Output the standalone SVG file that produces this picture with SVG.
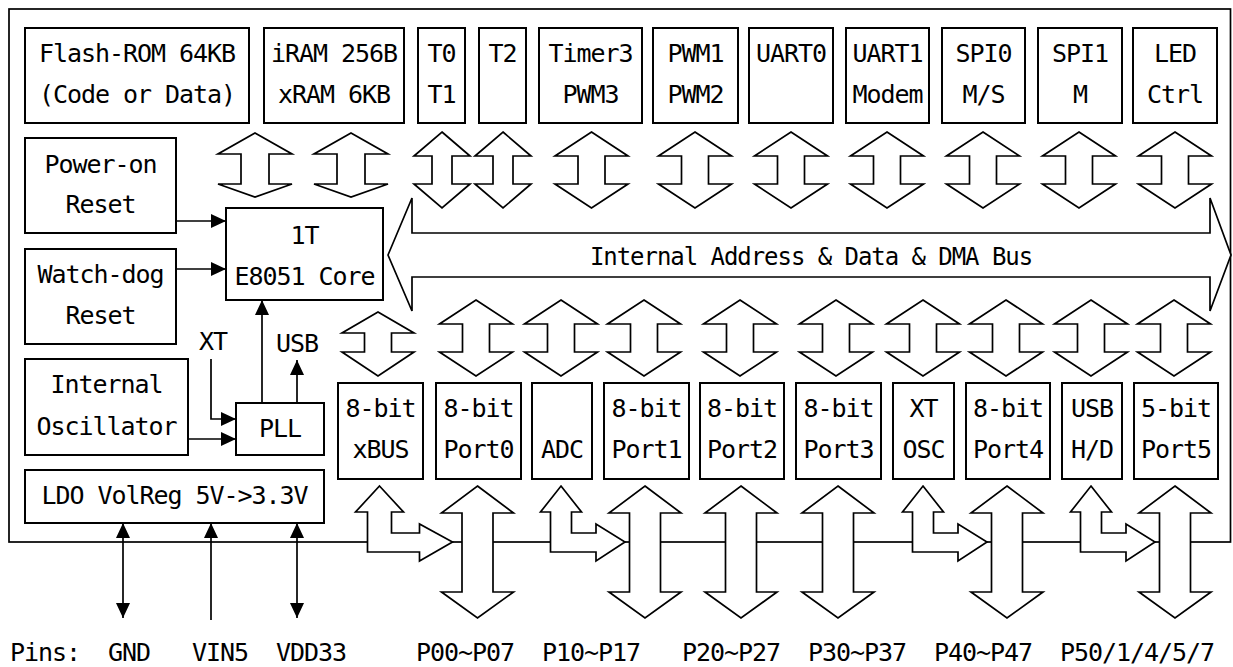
<svg xmlns="http://www.w3.org/2000/svg" width="1233" height="667" viewBox="0 0 1233 667">
<style>
.box{fill:#fff;stroke:#000;stroke-width:2}
.blk{fill:#fff;stroke:#000;stroke-width:1.7;stroke-linejoin:miter}
.ln{fill:none;stroke:#000;stroke-width:1.7}
.frame{fill:none;stroke:#000;stroke-width:1.7}
text{font-family:"DejaVu Sans Mono","Liberation Mono",monospace;font-size:25px;letter-spacing:-1.05px;fill:#000}
.c{text-anchor:middle}
</style>
<defs>
<marker id="ah" viewBox="0 0 15 14" refX="15" refY="7" markerWidth="15" markerHeight="14" markerUnits="userSpaceOnUse" orient="auto-start-reverse"><path d="M0,0L15,7L0,14Z" fill="#000"/></marker>
<path id="dw" class="blk" d="M0,0L36.5,24L13.5,24L13.5,52L36.5,52L0,76L-36.5,52L-13.5,52L-13.5,24L-36.5,24Z"/>
<path id="dn" class="blk" d="M0,0L28,24L10,24L10,52L28,52L0,76L-28,52L-10,52L-10,24L-28,24Z"/>
<path id="ds" class="blk" d="M0,0L37,21L14,21L14,51L37,51L0,64L-37,51L-14,51L-14,21L-37,21Z"/>
<path id="dx" class="blk" d="M0,0L36,21L13.5,21L13.5,40L36,40L0,64L-36,40L-13.5,40L-13.5,21L-36,21Z"/>
<path id="dp" class="blk" d="M0,0L36,27L15.5,27L15.5,106L36,106L0,132L-36,106L-15.5,106L-15.5,27L-36,27Z"/>
<path id="la" class="blk" d="M0,0L20.5,26L10.5,26L10.5,47L35,47L35,38L64,56L35,75L35,66L-10.5,66L-10.5,26L-20.5,26Z"/>
<path id="lx" class="blk" d="M0,0L24,26L12,26L12,47L40,47L40,38L73,56L40,75L40,66L-12,66L-12,26L-24,26Z"/>
</defs>
<rect width="1233" height="667" fill="#fff"/>
<rect id="chip" class="frame" x="9" y="9" width="1221.5" height="533"/>
<g id="connectors">
<polygon id="bus" class="blk" points="388,255 412,198 412,233 1210,233 1210,198 1231,255 1210,311 1210,277 412,277 412,311"/>
<use href="#ds" x="255" y="133"/>
<use href="#ds" x="351" y="133"/>
<use href="#dn" x="442" y="132"/>
<use href="#dn" x="503" y="132"/>
<use href="#dw" x="591.5" y="132"/>
<use href="#dw" x="695" y="132"/>
<use href="#dw" x="791" y="132"/>
<use href="#dw" x="887" y="132"/>
<use href="#dw" x="983" y="132"/>
<use href="#dw" x="1079" y="132"/>
<use href="#dw" x="1175" y="132"/>
<use href="#dx" x="378" y="312"/>
<use href="#dw" x="476" y="300"/>
<use href="#dw" x="561" y="300"/>
<use href="#dw" x="644" y="300"/>
<use href="#dw" x="740" y="300"/>
<use href="#dw" x="836" y="300"/>
<use href="#dw" x="923" y="300"/>
<use href="#dw" x="1006" y="300"/>
<use href="#dw" x="1091" y="300"/>
<use href="#dw" x="1174" y="300"/>
<use href="#lx" x="379.5" y="486"/>
<use href="#la" x="561" y="486"/>
<use href="#la" x="923" y="486"/>
<use href="#la" x="1091" y="486"/>
<use href="#dp" x="477.5" y="486"/>
<use href="#dp" x="645" y="486"/>
<use href="#dp" x="741" y="486"/>
<use href="#dp" x="838" y="486"/>
<use href="#dp" x="1007" y="486"/>
<use href="#dp" x="1175" y="486"/>
<line class="ln" x1="176" y1="221" x2="226" y2="221" marker-end="url(#ah)"/>
<line class="ln" x1="176" y1="269" x2="226" y2="269" marker-end="url(#ah)"/>
<polyline class="ln" points="211,359 211,419 236,419" marker-end="url(#ah)"/>
<line class="ln" x1="188" y1="439" x2="236" y2="439" marker-end="url(#ah)"/>
<line class="ln" x1="262" y1="403" x2="262" y2="300" marker-end="url(#ah)"/>
<line class="ln" x1="297" y1="403" x2="297" y2="360" marker-end="url(#ah)"/>
<line class="ln" x1="123" y1="618" x2="123" y2="523" marker-start="url(#ah)" marker-end="url(#ah)"/>
<line class="ln" x1="211" y1="620" x2="211" y2="523" marker-end="url(#ah)"/>
<line class="ln" x1="297" y1="618" x2="297" y2="523" marker-start="url(#ah)" marker-end="url(#ah)"/>
<text class="c" x="811" y="265" style="font-size:24px;letter-spacing:-1.05px">Internal Address &amp; Data &amp; DMA Bus</text>
<text class="c" x="213" y="350">XT</text>
<text class="c" x="297" y="352">USB</text>
</g>
<g id="flash"><rect class="box" x="25" y="28" width="224" height="95"/><text class="c" x="137" y="62">Flash-ROM 64KB</text><text class="c" x="137" y="103">(Code or Data)</text></g>
<g id="ram"><rect class="box" x="264" y="28" width="140" height="95"/><text class="c" x="334" y="62">iRAM 256B</text><text class="c" x="334" y="103">xRAM 6KB</text></g>
<g id="t01"><rect class="box" x="418" y="28" width="47" height="95"/><text class="c" x="441.5" y="62">T0</text><text class="c" x="441.5" y="103">T1</text></g>
<g id="t2"><rect class="box" x="479" y="28" width="47" height="95"/><text class="c" x="502.5" y="62">T2</text></g>
<g id="timer3"><rect class="box" x="539" y="28" width="103" height="95"/><text class="c" x="590.5" y="62">Timer3</text><text class="c" x="590.5" y="103">PWM3</text></g>
<g id="pwm"><rect class="box" x="653" y="28" width="85" height="95"/><text class="c" x="695.5" y="62">PWM1</text><text class="c" x="695.5" y="103">PWM2</text></g>
<g id="uart0"><rect class="box" x="749" y="28" width="84" height="95"/><text class="c" x="791" y="62">UART0</text></g>
<g id="uart1"><rect class="box" x="846" y="28" width="83" height="95"/><text class="c" x="887.5" y="62">UART1</text><text class="c" x="887.5" y="103">Modem</text></g>
<g id="spi0"><rect class="box" x="942" y="28" width="83" height="95"/><text class="c" x="983.5" y="62">SPI0</text><text class="c" x="983.5" y="103">M/S</text></g>
<g id="spi1"><rect class="box" x="1038" y="28" width="84" height="95"/><text class="c" x="1080" y="62">SPI1</text><text class="c" x="1080" y="103">M</text></g>
<g id="led"><rect class="box" x="1133" y="28" width="84" height="95"/><text class="c" x="1175" y="62">LED</text><text class="c" x="1175" y="103">Ctrl</text></g>
<g id="por"><rect class="box" x="25" y="138" width="151" height="95"/><text class="c" x="100.5" y="173">Power-on</text><text class="c" x="100.5" y="213">Reset</text></g>
<g id="core"><rect class="box" x="226" y="208" width="157" height="92"/><text class="c" x="304.5" y="244">1T</text><text class="c" x="304.5" y="285">E8051 Core</text></g>
<g id="wdt"><rect class="box" x="25" y="249" width="151" height="95"/><text class="c" x="100.5" y="283">Watch-dog</text><text class="c" x="100.5" y="324">Reset</text></g>
<g id="osc"><rect class="box" x="25" y="359" width="163" height="96"/><text class="c" x="106.5" y="393">Internal</text><text class="c" x="106.5" y="435">Oscillator</text></g>
<g id="pll"><rect class="box" x="236" y="403" width="88" height="52"/><text class="c" x="280" y="437">PLL</text></g>
<g id="ldo"><rect class="box" x="25" y="470" width="299" height="53"/><text class="c" x="174.5" y="504">LDO VolReg 5V-&gt;3.3V</text></g>
<g id="xbus"><rect class="box" x="338" y="383" width="85" height="96"/><text class="c" x="380.5" y="417">8-bit</text><text class="c" x="380.5" y="458">xBUS</text></g>
<g id="port0"><rect class="box" x="436" y="383" width="85" height="96"/><text class="c" x="478.5" y="417">8-bit</text><text class="c" x="478.5" y="458">Port0</text></g>
<g id="adc"><rect class="box" x="532" y="383" width="60" height="96"/><text class="c" x="562" y="458">ADC</text></g>
<g id="port1"><rect class="box" x="604" y="383" width="85" height="96"/><text class="c" x="646.5" y="417">8-bit</text><text class="c" x="646.5" y="458">Port1</text></g>
<g id="port2"><rect class="box" x="700" y="383" width="84" height="96"/><text class="c" x="742" y="417">8-bit</text><text class="c" x="742" y="458">Port2</text></g>
<g id="port3"><rect class="box" x="796" y="383" width="85" height="96"/><text class="c" x="838.5" y="417">8-bit</text><text class="c" x="838.5" y="458">Port3</text></g>
<g id="xtosc"><rect class="box" x="893" y="383" width="61" height="96"/><text class="c" x="923.5" y="417">XT</text><text class="c" x="923.5" y="458">OSC</text></g>
<g id="port4"><rect class="box" x="966" y="383" width="84" height="96"/><text class="c" x="1008" y="417">8-bit</text><text class="c" x="1008" y="458">Port4</text></g>
<g id="usb"><rect class="box" x="1062" y="383" width="60" height="96"/><text class="c" x="1092" y="417">USB</text><text class="c" x="1092" y="458">H/D</text></g>
<g id="port5"><rect class="box" x="1134" y="383" width="84" height="96"/><text class="c" x="1176" y="417">5-bit</text><text class="c" x="1176" y="458">Port5</text></g>
<g id="pins">
<text x="10" y="661">Pins:</text>
<text x="108" y="661">GND</text>
<text x="192" y="661">VIN5</text>
<text x="276" y="661">VDD33</text>
<text x="416" y="661">P00~P07</text>
<text x="542" y="661">P10~P17</text>
<text x="682" y="661">P20~P27</text>
<text x="808" y="661">P30~P37</text>
<text x="934" y="661">P40~P47</text>
<text x="1060" y="661">P50/1/4/5/7</text>
</g>
</svg>
